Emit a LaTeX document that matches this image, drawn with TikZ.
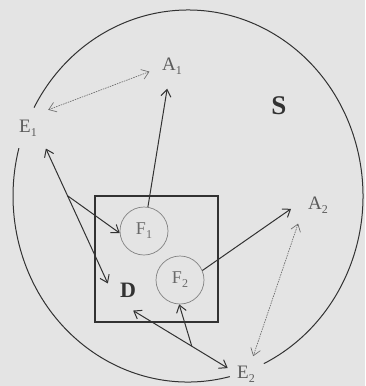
\documentclass[tikz,border=0pt]{standalone}
\usepackage{fontspec}
\setmainfont{Liberation Serif}
\usetikzlibrary{arrows.meta,calc}

\definecolor{paper}{RGB}{228,228,228}
\definecolor{ink}{RGB}{50,50,50}
\definecolor{faint}{RGB}{105,105,105}
\definecolor{soft}{RGB}{130,130,130}

\newcommand\lowidx[1]{\raisebox{-0.22em}{\fontsize{12}{12}\selectfont #1}}

\begin{document}
\begin{tikzpicture}[x=1pt, y=-1pt,
    >={Straight Barb[length=7pt,width=10pt]},
    lbl/.style={circle, inner sep=0pt, minimum size=#1, font=\fontsize{19}{22}\selectfont, text=ink!80},
    lbl/.default=46pt,
    big/.style={circle, inner sep=0pt, minimum size=#1, font=\fontsize{22}{25}\selectfont\bfseries, text=ink},
    big/.default=42pt,
    unit/.style={circle, draw=soft, line width=0.7pt, minimum size=48pt, inner sep=0pt,
                 font=\fontsize{18}{21}\selectfont, text=faint},
    flow/.style={draw=ink, line width=1pt},
    link/.style={draw=faint, line width=0.65pt, dash pattern=on 1.5pt off 1pt},
    bound/.style={draw=ink, line width=1pt},
  ]
  \fill[paper] (0,0) rectangle (365,386);
  \useasboundingbox (0,0) rectangle (365,386);

  % ---------------- system boundary ----------------
  \coordinate (sc) at (188,196);
  \draw[bound] ($(sc)+(208.4:175 and 186)$) arc[start angle=208.4, end angle=424.3, x radius=175, y radius=186];
  \draw[bound] ($(sc)+(76.2:175 and 186)$) arc[start angle=76.2, end angle=194.9, x radius=175, y radius=186];
  \node[big=30pt, font=\fontsize{27}{30}\selectfont\bfseries] (S) at (279,106) {S};

  % ---------------- labels ----------------
  \node[lbl] (A1) at (172,66) {A\lowidx{1}};
  \node[lbl=54pt] (E1) at (28,128) {E\lowidx{1}};
  \node[lbl=54pt] (A2) at (318,205) {A\lowidx{2}};
  \node[lbl=38pt] (E2) at (246,374) {E\lowidx{2}};

  % ---------------- domain ----------------
  \node[draw=ink, line width=1.6pt, minimum width=123pt, minimum height=126pt, inner sep=0pt] (box) at (156.5,259) {};
  \node[big] (D) at (128,290) {D};
  \node[unit] (F1) at (144,231) {F\lowidx{1}};
  \node[unit] (F2) at (180,280) {F\lowidx{2}};

  % ---------------- connectors ----------------
  \draw[link, <->] (E1.42) -- (A1.194);
  \draw[flow, ->] (F1) -- (A1.258);
  \draw[flow, <->] (E1.311) -- (D.162);
  \coordinate (forkE1) at ($(E1.311)!0.35!(D.162)$);
  \draw[flow, ->] (forkE1) -- (F1.185);
  \draw[flow, ->] (F2.23) -- (A2.188);
  \draw[link, <->] (A2.223) -- (E2.68);
  \draw[flow, <->] (D.284) -- (E2.162);
  \coordinate (forkE2) at ($(D.284)!0.62!(E2.162)$);
  \draw[flow, ->] (forkE2) -- (F2.268);
\end{tikzpicture}
\end{document}
